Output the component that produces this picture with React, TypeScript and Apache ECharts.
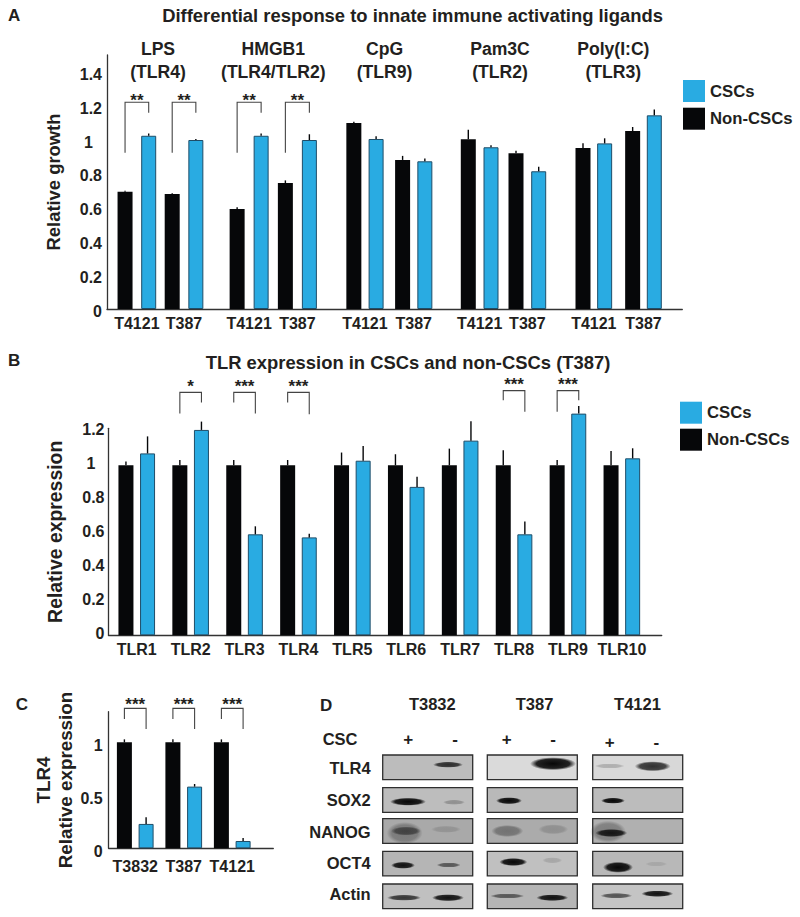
import React, { useEffect, useRef } from "react";
import * as echarts from "echarts";

// ---------- Panel A data ----------
const strainsA = ["T4121", "T387"];
const groupNamesA = ["LPS", "HMGB1", "CpG", "Pam3C", "Poly(I:C)"];
const groupTlrA = ["(TLR4)", "(TLR4/TLR2)", "(TLR9)", "(TLR2)", "(TLR3)"];
const lpsNon = [0.694, 0.68];
const lpsCsc = [1.025, 1.0];
const lpsNonErr = [0.005, 0.005];
const lpsCscErr = [0.014, 0.006];
const hmgbNon = [0.592, 0.745];
const hmgbCsc = [1.025, 1.0];
const hmgbNonErr = [0.01, 0.016];
const hmgbCscErr = [0.014, 0.034];
const cpgNon = [1.1, 0.882];
const cpgCsc = [1.006, 0.874];
const cpgNonErr = [0.008, 0.024];
const cpgCscErr = [0.016, 0.016];
const pamNon = [1.004, 0.921];
const pamCsc = [0.957, 0.815];
const pamNonErr = [0.057, 0.016];
const pamCscErr = [0.012, 0.026];
const polyNon = [0.953, 1.053];
const polyCsc = [0.98, 1.146];
const polyNonErr = [0.028, 0.024];
const polyCscErr = [0.03, 0.035];
const ticksA = [0, 0.2, 0.4, 0.6, 0.8, 1, 1.2, 1.4];

// ---------- Panel B data ----------
const tlrNames = ["TLR1", "TLR2", "TLR3", "TLR4", "TLR5", "TLR6", "TLR7", "TLR8", "TLR9", "TLR10"];
const tlrNon = [1, 1, 1, 1, 1, 1, 1, 1, 1, 1];
const tlrCsc = [1.07, 1.208, 0.594, 0.576, 1.027, 0.873, 1.145, 0.594, 1.304, 1.041];
const tlrNonErr = [0.022, 0.031, 0.031, 0.031, 0.075, 0.065, 0.098, 0.088, 0.031, 0.084];
const tlrCscErr = [0.1, 0.049, 0.047, 0.022, 0.086, 0.059, 0.114, 0.075, 0.045, 0.059];
const ticksB = [0, 0.2, 0.4, 0.6, 0.8, 1, 1.2];

// ---------- Panel C data ----------
const strainsC = ["T3832", "T387", "T4121"];
const cNon = [1, 1, 1];
const cCsc = [0.23, 0.582, 0.069];
const cNonErr = [0.028, 0.028, 0.028];
const cCscErr = [0.063, 0.025, 0.028];
const ticksC = [0, 0.5, 1];

// ---------- Significance brackets: category, top, left foot, right foot, stars ----------
const bracketsLps = [[0, 1.223, 0.925, 1.162, "**"], [1, 1.223, 0.925, 1.162, "**"]];
const bracketsHmgb = [[0, 1.223, 0.925, 1.162, "**"], [1, 1.223, 0.925, 1.162, "**"]];
const bracketsB = [
  [1, 1.429, 1.305, 1.37, "*"],
  [2, 1.429, 1.37, 1.305, "***"],
  [3, 1.429, 1.37, 1.3, "***"],
  [7, 1.439, 1.382, 1.315, "***"],
  [8, 1.439, 1.315, 1.382, "***"],
];
const bracketsC = [
  [0, 1.32, 1.22, 1.126, "***"],
  [1, 1.32, 1.22, 1.126, "***"],
  [2, 1.32, 1.22, 1.126, "***"],
];

// ---------- Panel D labels ----------
const blotStrains = ["T3832", "T387", "T4121"];
const blotRows = ["TLR4", "SOX2", "NANOG", "OCT4", "Actin"];
// Membrane background grey: one row per antibody, one column per strain
const blotGrey = [
  ["#bcbcbc", "#dadada", "#d8d8d8"],
  ["#bdbdbd", "#b9b9b9", "#bcbcbc"],
  ["#a9a9a9", "#ababab", "#b0b0b0"],
  ["#b5b5b5", "#c0c0c0", "#b8b8b8"],
  ["#c0c0c0", "#b5b5b5", "#c4c4c4"],
];
// Band darkness: [cx, cy, rx, ry, darkness]
const blotBands = [
  [448, 764.7, 15, 3, 0.8],
  [408, 801.7, 18, 4, 1],
  [454, 802.3, 11, 2.5, 0.25],
  [404.7, 833, 18, 11, 0.3],
  [406, 831, 15, 4.5, 0.5],
  [446, 829.3, 15, 3.5, 0.14],
  [403, 865.3, 12, 3.5, 0.95],
  [448.7, 865, 12, 2.5, 0.55],
  [404, 897.7, 17, 3, 0.75],
  [448, 897.7, 16, 3.5, 0.95],
  [553, 763.7, 23, 6.5, 1],
  [509, 800.7, 13, 3.5, 1],
  [507.3, 831, 16, 6, 0.35],
  [553.3, 829.3, 15, 5, 0.17],
  [513.3, 862, 14, 4, 1],
  [552.3, 860.3, 10, 3, 0.14],
  [507.3, 896, 17, 2.5, 0.55],
  [552.3, 897.7, 16, 3.3, 0.95],
  [609.7, 766, 15, 2.5, 0.2],
  [652.7, 766.3, 18, 5, 0.8],
  [613, 800.7, 12, 3, 1],
  [608, 831.7, 18, 11, 0.3],
  [611.3, 833, 16, 4, 0.9],
  [618, 867.3, 15, 5.5, 1],
  [656.3, 864, 11, 2.5, 0.1],
  [616.3, 895.7, 16, 2.7, 0.6],
  [657.3, 893.7, 16, 3.2, 0.95],
];

const FONT = '"Liberation Sans", Arial, sans-serif';
const INK = "#231f20";
const BLUE = "#29abe2";
const BLACK = "#060709";
const AXIS = "#333333";

function textEl(text: string, x: number, y: number, size: number, align = "center") {
  return {
    type: "text",
    x,
    y,
    silent: true,
    style: {
      text,
      align,
      verticalAlign: "middle",
      font: `bold ${size}px ${FONT}`,
      fill: INK,
    },
  };
}

function buildOption() {
  const grid: any[] = [];
  const xAxis: any[] = [];
  const yAxis: any[] = [];
  const series: any[] = [];

  function frame(f: any) {
    const idx = grid.length;
    grid.push({ left: f.left, top: f.top, width: f.width, height: f.height });
    xAxis.push({
      gridIndex: idx,
      type: "value",
      min: 0,
      max: 1,
      axisLabel: { show: false },
      axisTick: { show: false },
      splitLine: { show: false },
      axisLine: { show: true, onZero: false, lineStyle: { color: AXIS, width: 1.3 } },
    });
    yAxis.push({
      gridIndex: idx,
      type: "value",
      min: 0,
      max: f.max,
      name: f.name,
      nameLocation: "middle",
      nameGap: f.nameGap,
      nameTextStyle: {
        fontFamily: FONT,
        fontWeight: "bold",
        fontSize: f.nameSize,
        color: INK,
        lineHeight: 22,
      },
      splitLine: { show: false },
      axisTick: { show: false },
      axisLine: { show: true, onZero: false, lineStyle: { color: AXIS, width: 1.3 } },
      axisLabel: {
        customValues: f.ticks,
        margin: f.margin,
        fontFamily: FONT,
        fontWeight: "bold",
        fontSize: 16,
        color: INK,
        padding: f.labelPadding,
        formatter: (v: number) => (v === 1 && f.onePad ? `{one|1}` : String(v)),
        rich: {
          one: {
            fontFamily: FONT,
            fontWeight: "bold",
            fontSize: 16,
            color: INK,
            padding: [0, f.onePad || 0, 0, 0],
          },
        },
      },
    });
  }

  function bars(g: any) {
    const idx = grid.length;
    grid.push({ left: g.left, top: g.top, width: g.step * g.cats.length, height: g.height });
    xAxis.push({
      gridIndex: idx,
      type: "category",
      data: g.cats,
      axisLine: { show: false },
      axisTick: { show: false },
      axisLabel: {
        interval: 0,
        margin: g.labelMargin,
        fontFamily: FONT,
        fontWeight: "bold",
        fontSize: 16,
        color: INK,
      },
    });
    yAxis.push({ gridIndex: idx, type: "value", min: 0, max: g.max, show: false });
    const gap = `${((g.offset - 15) / 15) * 100}%`;
    const common = {
      type: "bar",
      xAxisIndex: idx,
      yAxisIndex: idx,
      barWidth: 15,
      barGap: gap,
      clip: false,
      silent: true,
    };
    series.push({
      ...common,
      name: "Non-CSCs",
      data: g.non,
      itemStyle: { color: BLACK },
    });
    series.push({
      ...common,
      name: "CSCs",
      data: g.csc,
      itemStyle: { color: BLUE, borderColor: "#1f4d68", borderWidth: 1 },
    });
    const whiskers = [
      ...g.non.map((v: number, i: number) => [i, v + g.nonErr[i], v, -1]),
      ...g.csc.map((v: number, i: number) => [i, v + g.cscErr[i], v, 1]),
    ];
    series.push({
      type: "custom",
      name: "error",
      xAxisIndex: idx,
      yAxisIndex: idx,
      silent: true,
      clip: false,
      z: 3,
      data: whiskers,
      encode: { x: 0, y: 1 },
      renderItem: (_p: any, api: any) => {
        const cx = api.coord([api.value(0), 0])[0] + (api.value(3) * g.offset) / 2;
        const y1 = api.coord([api.value(0), api.value(1)])[1];
        const y2 = api.coord([api.value(0), api.value(2)])[1];
        return {
          type: "line",
          shape: { x1: cx, y1, x2: cx, y2 },
          style: { stroke: BLACK, lineWidth: 1.4 },
        };
      },
    });
    if (g.brackets) {
      series.push({
        type: "custom",
        name: "significance",
        xAxisIndex: idx,
        yAxisIndex: idx,
        silent: true,
        clip: false,
        z: 3,
        data: g.brackets.map((b: any[]) => [b[0], b[1], b[2], b[3]]),
        encode: { x: 0, y: 1 },
        renderItem: (p: any, api: any) => {
          const cat = api.value(0);
          const cx = api.coord([cat, 0])[0];
          const xl = cx - g.offset / 2;
          const xr = cx + g.offset / 2;
          const yTop = api.coord([cat, api.value(1)])[1];
          const yL = api.coord([cat, api.value(2)])[1];
          const yR = api.coord([cat, api.value(3)])[1];
          return {
            type: "group",
            children: [
              {
                type: "polyline",
                shape: { points: [[xl, yL], [xl, yTop], [xr, yTop], [xr, yR]] },
                style: { stroke: "#444444", lineWidth: 1.1, fill: "none" },
              },
              {
                type: "text",
                x: cx,
                y: yTop - g.starGap,
                style: {
                  text: g.brackets[p.dataIndex][4],
                  align: "center",
                  verticalAlign: "middle",
                  font: `bold 17px ${FONT}`,
                  fill: INK,
                },
              },
            ],
          };
        },
      });
    }
  }

  // ---- Panel A ----
  const topA = 55;
  const heightA = 254;
  const maxA = 1.503;
  frame({
    left: 107,
    top: topA,
    width: 575.3,
    height: heightA,
    max: maxA,
    name: "Relative growth",
    nameSize: 18.4,
    nameGap: 43,
    ticks: ticksA,
    margin: 5,
    onePad: 9,
    labelPadding: [4, 0, 0, 0],
  });
  const groupLayoutA = [
    { left: 113.3, step: 47.15, offset: 23.65 },
    { left: 225, step: 48.25, offset: 24 },
    { left: 340.6, step: 48.75, offset: 22.25 },
    { left: 455.8, step: 47.7, offset: 22.7 },
    { left: 569, step: 49.65, offset: 21.65 },
  ];
  const dataA = [
    { non: lpsNon, csc: lpsCsc, nonErr: lpsNonErr, cscErr: lpsCscErr, brackets: bracketsLps },
    { non: hmgbNon, csc: hmgbCsc, nonErr: hmgbNonErr, cscErr: hmgbCscErr, brackets: bracketsHmgb },
    { non: cpgNon, csc: cpgCsc, nonErr: cpgNonErr, cscErr: cpgCscErr },
    { non: pamNon, csc: pamCsc, nonErr: pamNonErr, cscErr: pamCscErr },
    { non: polyNon, csc: polyCsc, nonErr: polyNonErr, cscErr: polyCscErr },
  ];
  dataA.forEach((d, i) =>
    bars({ ...d, ...groupLayoutA[i], cats: strainsA, top: topA, height: heightA, max: maxA, labelMargin: 6, starGap: 2 })
  );

  // ---- Panel B ----
  const topB = 428.3;
  const heightB = 207;
  const maxB = 1.2176;
  frame({
    left: 108.5,
    top: topB,
    width: 553.2,
    height: heightB,
    max: maxB,
    name: "Relative expression",
    nameSize: 19.4,
    nameGap: 43,
    ticks: ticksB,
    margin: 4,
    onePad: 9,
    labelPadding: [0, 0, 3, 0],
  });
  bars({
    non: tlrNon,
    csc: tlrCsc,
    nonErr: tlrNonErr,
    cscErr: tlrCscErr,
    brackets: bracketsB,
    cats: tlrNames,
    left: 109.8,
    step: 53.9,
    offset: 21.6,
    top: topB,
    height: heightB,
    max: maxB,
    labelMargin: 6,
    starGap: 6,
  });

  // ---- Panel C ----
  const topC = 711.7;
  const heightC = 136.6;
  const maxC = 1.289;
  frame({
    left: 108.7,
    top: topC,
    width: 164.6,
    height: heightC,
    max: maxC,
    name: "TLR4\nRelative expression",
    nameSize: 18.8,
    nameGap: 30,
    ticks: ticksC,
    margin: 6,
    labelPadding: [6, 0, 0, 0],
  });
  bars({
    non: cNon,
    csc: cCsc,
    nonErr: cNonErr,
    cscErr: cCscErr,
    brackets: bracketsC,
    cats: strainsC,
    left: 111,
    step: 48.5,
    offset: 21.7,
    top: topC,
    height: heightC,
    max: maxC,
    labelMargin: 10,
    starGap: 4,
  });

  // ---- Graphic annotations and panel D ----
  const elements: any[] = [
    textEl("A", 8, 15, 17, "left"),
    textEl("B", 8, 360, 17, "left"),
    textEl("C", 15.7, 704, 17, "left"),
    textEl("D", 320, 705, 17, "left"),
    textEl("Differential response to innate immune activating ligands", 412.5, 15, 18.4),
    textEl("TLR expression in CSCs and non-CSCs (T387)", 408, 362, 18.4),
  ];
  const groupX = [158, 273.3, 384.5, 500, 613.3];
  groupNamesA.forEach((n, i) => {
    elements.push(textEl(n, groupX[i], 49.3, 17.6));
    elements.push(textEl(groupTlrA[i], groupX[i], 71.7, 17.6));
  });

  const strainX = [432.3, 534.5, 637.5];
  blotStrains.forEach((s, i) => elements.push(textEl(s, strainX[i], 704, 16.5)));
  elements.push(textEl("CSC", 322.7, 739.3, 16.5, "left"));
  const signs: any[] = [
    ["+", 408.3, 739],
    ["-", 455, 739],
    ["+", 506.7, 739],
    ["-", 553, 739],
    ["+", 609.7, 742],
    ["-", 656.3, 742],
  ];
  signs.forEach((s) => elements.push(textEl(s[0], s[1], s[2], 17)));
  const rowY = [768.3, 800, 831.7, 862.7, 894.3];
  blotRows.forEach((r, i) => elements.push(textEl(r, 370.7, rowY[i], 16.5, "right")));

  const colX = [382.7, 487.3, 592.7];
  const rowTop = [755, 787.7, 818.7, 851.3, 884];
  blotGrey.forEach((row, r) =>
    row.forEach((fill, c) =>
      elements.push({
        type: "rect",
        silent: true,
        shape: { x: colX[c], y: rowTop[r], width: 90, height: 24.6 },
        style: { fill },
      })
    )
  );
  blotBands.forEach((b) => {
    const a = b[4];
    elements.push({
      type: "ellipse",
      silent: true,
      shape: { cx: b[0], cy: b[1], rx: b[2], ry: b[3] },
      style: {
        fill: new echarts.graphic.RadialGradient(0.5, 0.5, 0.5, [
          { offset: 0, color: `rgba(8,8,8,${a})` },
          { offset: 0.72, color: `rgba(8,8,8,${a * 0.88})` },
          { offset: 1, color: "rgba(8,8,8,0)" },
        ]),
      },
    });
  });
  blotGrey.forEach((row, r) =>
    row.forEach((_f, c) =>
      elements.push({
        type: "rect",
        silent: true,
        shape: { x: colX[c], y: rowTop[r], width: 90, height: 24.6 },
        style: { fill: "none", stroke: "#2e2e2e", lineWidth: 1.3 },
      })
    )
  );

  const legendBase = {
    orient: "vertical",
    itemWidth: 22,
    itemHeight: 22,
    icon: "rect",
    selectedMode: false,
    padding: 0,
    textStyle: { fontFamily: FONT, fontWeight: "bold", fontSize: 16.7, color: INK },
    data: [
      { name: "CSCs", itemStyle: { borderWidth: 0, color: BLUE } },
      { name: "Non-CSCs", itemStyle: { borderWidth: 0, color: BLACK } },
    ],
  };

  return {
    animation: false,
    backgroundColor: "#ffffff",
    grid,
    xAxis,
    yAxis,
    series,
    legend: [
      { ...legendBase, left: 683, top: 80, itemGap: 5.7 },
      { ...legendBase, left: 680, top: 401.7, itemGap: 5 },
    ],
    graphic: { elements },
  };
}

export default function App() {
  const ref = useRef<HTMLDivElement>(null);
  useEffect(() => {
    document.body.style.margin = "0";
    const chart = echarts.init(ref.current as HTMLDivElement, undefined, { renderer: "svg" });
    chart.setOption(buildOption() as any);
    return () => chart.dispose();
  }, []);
  return <div ref={ref} style={{ width: 800, height: 917 }} />;
}
